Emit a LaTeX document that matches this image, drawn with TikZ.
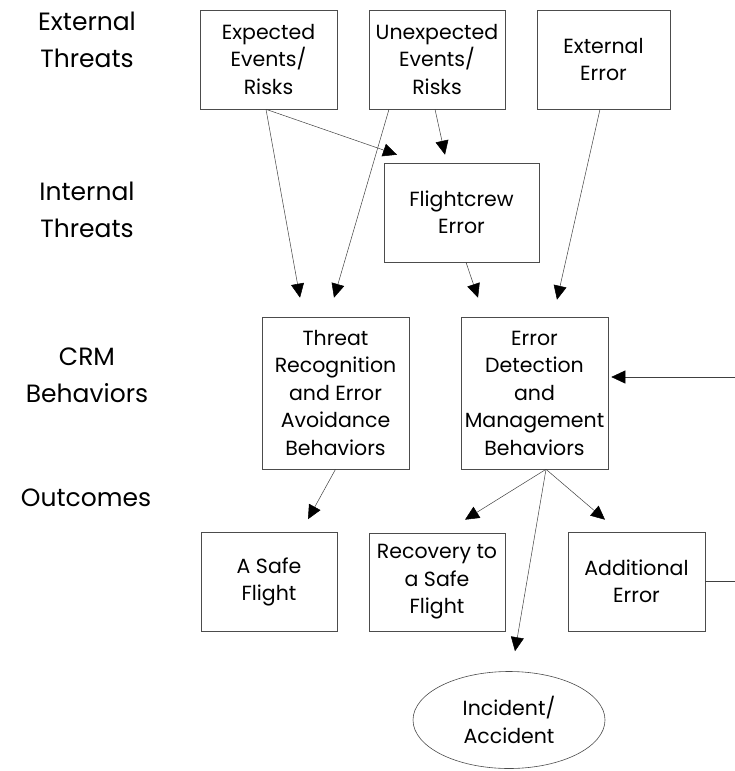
\documentclass[tikz,border=0pt]{standalone}
\usepackage{fontspec}
\setmainfont{Poppins}
\usetikzlibrary{arrows.meta,shapes.geometric}
\begin{document}
\begin{tikzpicture}[x=1pt,y=-1pt,
  box/.style={draw=black!70,line width=0.6pt,rectangle,inner sep=0pt,align=center,font=\fontsize{20.5}{27.5}\selectfont},
  lbl/.style={align=center,font=\fontsize{25}{37}\selectfont},
  arr/.style={draw=black!75,line width=0.5pt,-{Triangle[length=14pt,width=13pt,color=black]}}]
\useasboundingbox (0,0) rectangle (735,771);
% labels
\node[lbl] (l1) at (87,40) {External\\Threats};
\node[lbl] (l2) at (87,210) {Internal\\Threats};
\node[lbl] (l3) at (87,375) {CRM\\Behaviors};
\node[lbl] (l4) at (86,498) {Outcomes};
% boxes
\node[box,minimum width=137pt,minimum height=99pt] (exp) at (268.5,59.5) {Expected\\Events/\\Risks};
\node[box,minimum width=136pt,minimum height=99pt] (unx) at (437,59.5) {Unexpected\\Events/\\Risks};
\node[box,minimum width=133pt,minimum height=99pt] (ext) at (603.5,59.5) {External\\Error};
\node[box,minimum width=155pt,minimum height=99pt] (flc) at (461.5,212.5) {Flightcrew\\Error};
\node[box,minimum width=147pt,minimum height=152pt] (thr) at (335.5,393) {Threat\\Recognition\\and Error\\Avoidance\\Behaviors};
\node[box,minimum width=147pt,minimum height=152pt] (edm) at (534.5,393) {Error\\Detection\\and\\Management\\Behaviors};
\node[box,minimum width=136pt,minimum height=99pt] (safe) at (269,582) {A Safe\\Flight};
\node[box,minimum width=136pt,minimum height=98pt] (rec) at (437,582) {Recovery to\\a Safe\\Flight};
\node[box,minimum width=137pt,minimum height=99pt] (add) at (636.5,581.5) {Additional\\Error};
\node[box,ellipse,minimum width=192pt,minimum height=97pt] (inc) at (509,720) {Incident/\\Accident};
% arrows
\draw[arr] ([xshift=-2.5pt]exp.south) -- ([xshift=-35.5pt,yshift=19pt]thr.north);
\draw[arr] ([xshift=-2.5pt]exp.south) -- ([xshift=-64.5pt,yshift=8pt]flc.north);
\draw[arr] ([xshift=-48pt]unx.south) -- ([xshift=-1.5pt,yshift=19pt]thr.north);
\draw[arr] ([xshift=-2pt]unx.south) -- ([xshift=-16.5pt,yshift=8pt]flc.north);
\draw[arr] ([xshift=-3.5pt]ext.south) -- ([xshift=22.5pt,yshift=17pt]edm.north);
\draw[arr] ([xshift=4.5pt]flc.south) -- ([xshift=-56.5pt,yshift=19pt]edm.north);
\draw[arr] (thr.south) -- ([xshift=39pt,yshift=13pt]safe.north);
\draw[arr] ([xshift=11.5pt]edm.south) -- ([xshift=28pt,yshift=13pt]rec.north);
\draw[arr] ([xshift=11.5pt]edm.south) -- ([xshift=-31.5pt,yshift=12pt]add.north);
\draw[arr] ([xshift=11.5pt]edm.south) -- ([xshift=6pt,yshift=20pt]inc.north);
\coordinate (fb) at (742,0);
\draw[arr] (add.east) -- (add.east -| fb) |- ([xshift=3pt,yshift=16pt]edm.east);
\end{tikzpicture}
\end{document}
